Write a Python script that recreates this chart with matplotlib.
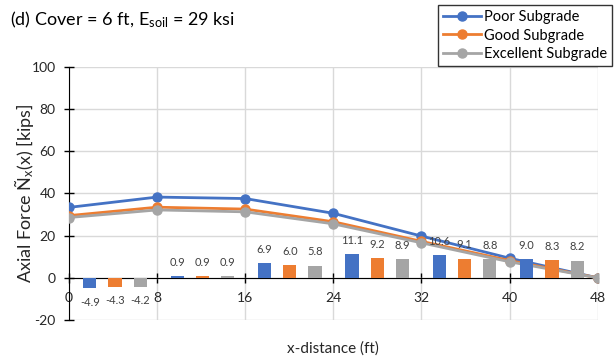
import matplotlib.pyplot as plt

plt.rcParams['font.family'] = ['Lato', 'DejaVu Sans']
plt.rcParams['mathtext.fontset'] = 'custom'
plt.rcParams['mathtext.rm'] = 'Lato'
plt.rcParams['mathtext.it'] = 'Lato:italic'
plt.rcParams['axes.unicode_minus'] = False

# x positions (ft) of the line series
x_dist = [0, 8, 16, 24, 32, 40, 48]
poor = [33.4, 38.3, 37.6, 30.6, 19.8, 9.3, 0]
good = [29.5, 33.5, 32.6, 26.6, 17.3, 8.2, 0]
excellent = [28.6, 32.2, 31.3, 25.6, 16.6, 7.6, 0]

# bar values per 8-ft segment
poor_bar = [-4.9, 0.9, 6.9, 11.1, 10.6, 9.0]
good_bar = [-4.3, 0.9, 6.0, 9.2, 9.1, 8.3]
exc_bar = [-4.2, 0.9, 5.8, 8.9, 8.8, 8.2]

names = ["Poor Subgrade", "Good Subgrade", "Excellent Subgrade"]
colors = ["#4472C4", "#ED7D31", "#A5A5A5"]

fig = plt.figure(figsize=(6.15, 3.62), dpi=100)
ax = fig.add_axes([0.112, 0.116, 0.860, 0.699])

for vals, name, c in zip([poor, good, excellent], names, colors):
    ax.plot(x_dist, vals, color=c, lw=2.0, marker='o', ms=6.5, label=name, zorder=3)

# bars sit on their own category scale, slightly compressed vs. the x axis
seg = 7.93
for j, (vals, c) in enumerate(zip([poor_bar, good_bar, exc_bar], colors)):
    for i, v in enumerate(vals):
        xb = 1.9 + seg * i + 2.29 * j
        ax.bar(xb, v, width=1.2, color=c, zorder=4)
        off = 6 if v >= 0 else -6
        ax.annotate(f"{v:.1f}", (xb, v), xytext=(0, off), textcoords='offset points',
                    ha='center', va='bottom' if v >= 0 else 'top',
                    fontsize=8, color='#404040', zorder=5)

ax.set_xlim(0, 48)
ax.set_ylim(-20, 100)
ax.set_xticks(range(0, 49, 8))
ax.set_yticks(range(-20, 101, 20))
ax.grid(True, color='#D9D9D9', lw=1.0, zorder=0)
ax.set_axisbelow(True)

for s in ['top', 'right']:
    ax.spines[s].set_visible(False)
ax.spines['bottom'].set_position(('data', 0))
ax.spines['bottom'].set_zorder(2)
ax.spines['left'].set_zorder(2)
ax.tick_params(axis='both', direction='inout', length=7, width=1, labelsize=10,
               labelcolor='#262626')
ax.tick_params(axis='x', pad=7)
ax.tick_params(axis='y', pad=6)

ax.set_xlabel("x-distance (ft)", fontsize=11, color='#262626')
ax.xaxis.set_label_coords(0.5, -0.085)
ax.set_ylabel("Axial Force Ñ$_{\\mathrm{x}}$(x) [kips]", fontsize=13, color='#262626')
ax.yaxis.set_label_coords(-0.062, 0.5)

fig.text(0.016, 0.945, "(d) Cover = 6 ft, E$_{\\mathrm{soil}}$ = 29 ksi", fontsize=13,
         va='center', ha='left')

leg = ax.legend(loc='upper right', bbox_to_anchor=(0.995, 0.986),
                bbox_transform=fig.transFigure, fontsize=10.5, frameon=True,
                fancybox=False, edgecolor='black', handlelength=2.6,
                handletextpad=0.2, borderpad=0.35, labelspacing=0.3,
                borderaxespad=0)
leg.get_frame().set_linewidth(1.0)

fig.savefig("out.png", dpi=100)
